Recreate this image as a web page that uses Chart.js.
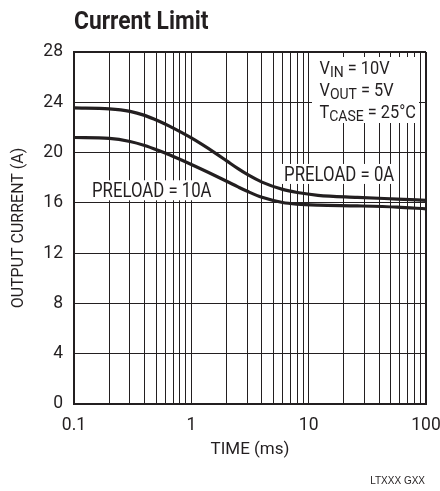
<!DOCTYPE html>
<html>
<head>
<meta charset="utf-8">
<script src="https://cdn.jsdelivr.net/npm/chart.js@4/dist/chart.umd.min.js"></script>
<style>
  html, body { margin: 0; padding: 0; background: #fff; }
  #wrap { width: 440px; height: 491px; position: relative; }
</style>
</head>
<body>
<div id="wrap"><canvas id="myChart"></canvas></div>
<script>
// time points (ms)
const times = [0.1, 0.2, 0.3, 0.4, 0.52, 0.65, 1, 1.6, 2, 2.5, 3, 4, 6, 8, 12, 26, 57, 100];
// output current (A), no preload
const preload0 = [23.55, 23.48, 23.28, 22.96, 22.53, 22.1, 21.16, 19.96, 19.34, 18.72, 18.26, 17.65, 17.07, 16.82, 16.6, 16.44, 16.3, 16.2];
// output current (A), 10A preload
const preload10 = [21.2, 21.13, 20.88, 20.56, 20.18, 19.82, 19.05, 18.16, 17.72, 17.27, 16.92, 16.44, 16.03, 15.9, 15.82, 15.76, 15.66, 15.52];

const xGrid = [0.1,0.2,0.3,0.4,0.5,0.6,0.7,0.8,0.9,1,2,3,4,5,6,7,8,9,10,20,30,40,50,60,70,80,90,100];
const xLabels = [0.1, 1, 10, 100];
const yTicks = [0, 4, 8, 12, 16, 20, 24, 28];

const FONT = 'Roboto, "Liberation Sans", sans-serif';
const INK = '#231f20';
const SQUEEZE = 0.86; // the original uses a condensed face

const ctx = document.getElementById('myChart');

// condensed text: draw with a horizontal squeeze, returns drawn width
function narrowText(c, txt, x, y, font, align, sq) {
  sq = sq || SQUEEZE;
  c.font = font;
  const w = c.measureText(txt).width * sq;
  let left = x;
  if (align === 'center') left = x - w / 2;
  if (align === 'right') left = x - w;
  c.save();
  c.translate(left, y);
  c.scale(sq, 1);
  c.textAlign = 'left';
  c.fillText(txt, 0, 0);
  c.restore();
  return w;
}

// text on the plot: title, curve labels, conditions box
const notes = {
  id: 'notes',
  beforeDatasetsDraw(chart) {
    const c = chart.ctx, a = chart.chartArea;
    const x = chart.scales.x, y = chart.scales.y;
    c.save();
    c.textBaseline = 'alphabetic';

    function label(txt, px, py) {
      const f = '19.5px ' + FONT;
      c.font = f;
      const w = c.measureText(txt).width * SQUEEZE;
      c.fillStyle = '#fff';
      c.fillRect(px - w / 2 - 3, py - 10, w + 6, 20);
      c.fillStyle = INK;
      narrowText(c, txt, px, py + 7, f, 'center');
    }
    label('PRELOAD = 10A', x.getPixelForValue(0.46), y.getPixelForValue(17.0));
    label('PRELOAD = 0A', x.getPixelForValue(18.2), y.getPixelForValue(18.3));

    // conditions box, top right
    const lines = [['V', 'IN', ' = 10V'], ['V', 'OUT', ' = 5V'], ['T', 'CASE', ' = 25°C']];
    const bx = a.right - 114, by = a.top + 5;
    c.fillStyle = '#fff';
    c.fillRect(bx, by, 107, 66);
    c.fillStyle = INK;
    lines.forEach((ln, i) => {
      let px = bx + 7.5;
      const py = a.top + 21.5 + i * 22;
      px += narrowText(c, ln[0], px, py, '19px ' + FONT, 'left');
      px += narrowText(c, ln[1], px, py + 3, '14px ' + FONT, 'left', 1);
      narrowText(c, ln[2], px, py, '19px ' + FONT, 'left');
    });
    c.restore();
  },
  afterDraw(chart) {
    const c = chart.ctx;
    c.save();
    c.fillStyle = INK;
    c.textBaseline = 'alphabetic';
    narrowText(c, 'Current Limit', chart.chartArea.left, 29, 'bold 26.5px ' + FONT, 'left');
    c.font = '10px "Liberation Sans", sans-serif';
    c.textAlign = 'right';
    c.fillText('LTXXX GXX', 425, 484);
    c.restore();
  }
};

new Chart(ctx, {
  type: 'line',
  data: {
    datasets: [
      {
        label: 'PRELOAD = 0A',
        data: times.map((t, i) => ({ x: t, y: preload0[i] })),
        borderColor: INK,
        borderWidth: 3.2,
        pointRadius: 0,
        cubicInterpolationMode: 'monotone'
      },
      {
        label: 'PRELOAD = 10A',
        data: times.map((t, i) => ({ x: t, y: preload10[i] })),
        borderColor: INK,
        borderWidth: 3.2,
        pointRadius: 0,
        cubicInterpolationMode: 'monotone'
      }
    ]
  },
  options: {
    responsive: true,
    maintainAspectRatio: false,
    animation: false,
    layout: { padding: { top: 52, right: 14, left: 0, bottom: 0 } },
    plugins: {
      legend: { display: false },
      tooltip: { enabled: false }
    },
    scales: {
      x: {
        type: 'logarithmic',
        min: 0.1,
        max: 100,
        afterBuildTicks(scale) { scale.ticks = xGrid.map(v => ({ value: v })); },
        afterFit(scale) {
          scale.height = 87;
          scale.paddingLeft = 0;
          scale.paddingRight = 0;
        },
        ticks: {
          autoSkip: false,
          maxRotation: 0,
          padding: 11,
          color: INK,
          font: { family: FONT, size: 17.5 },
          callback: v => xLabels.includes(v) ? String(v) : ''
        },
        grid: {
          color: INK,
          lineWidth: c => (c.index === 0 || c.index === xGrid.length - 1) ? 2 : 1,
          drawTicks: false
        },
        border: { color: INK, width: 2 },
        title: {
          display: true,
          text: 'TIME (ms)',
          color: INK,
          font: { family: FONT, size: 17 },
          padding: { top: 0, bottom: 31 }
        }
      },
      y: {
        min: 0,
        max: 28,
        afterBuildTicks(scale) { scale.ticks = yTicks.map(v => ({ value: v })); },
        afterFit(scale) {
          scale.width = 74;
          scale.paddingTop = 0;
          scale.paddingBottom = 0;
        },
        ticks: {
          padding: 11,
          color: INK,
          font: { family: FONT, size: 17.5 }
        },
        grid: {
          color: INK,
          lineWidth: c => (c.index === 0 || c.index === yTicks.length - 1) ? 2 : 1,
          drawTicks: false
        },
        border: { color: INK, width: 2 },
        title: {
          display: true,
          text: 'OUTPUT CURRENT (A)',
          color: INK,
          font: { family: FONT, size: 16 },
          padding: { top: 9, bottom: 0 }
        }
      }
    }
  },
  plugins: [notes]
});
</script>
</body>
</html>
